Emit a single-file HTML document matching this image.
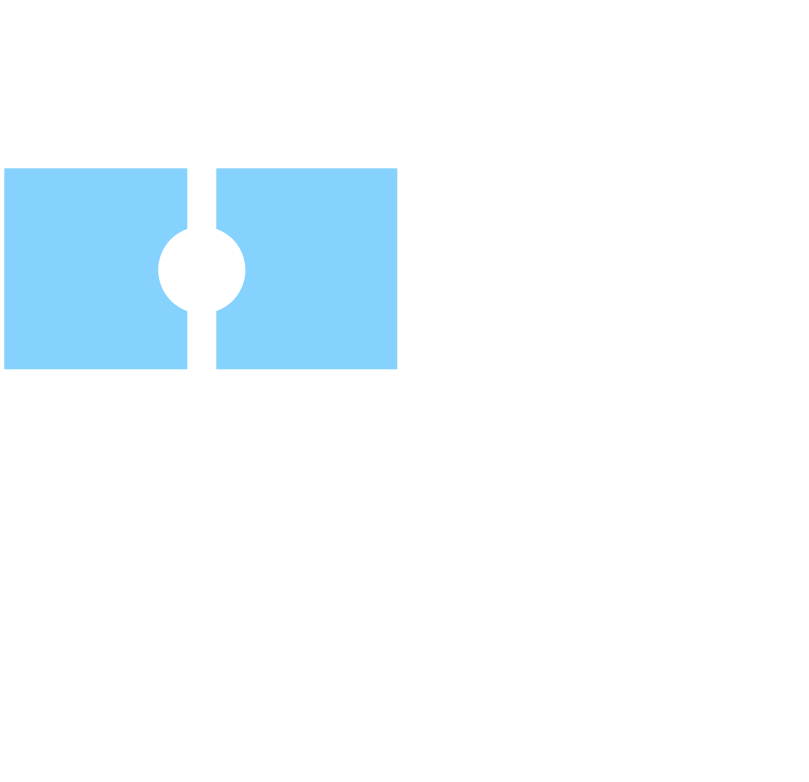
<!DOCTYPE html>
<html>
<head>
<meta charset="utf-8">
<style>
  html, body { margin: 0; padding: 0; background: #ffffff; }
  body { width: 809px; height: 782px; overflow: hidden; position: relative; }
  svg { position: absolute; left: 0; top: 0; }
</style>
</head>
<body>
<svg width="809" height="782" viewBox="0 0 809 782" xmlns="http://www.w3.org/2000/svg">
  <rect x="0" y="0" width="809" height="782" fill="#ffffff"/>
  <rect x="4.3" y="168.3" width="183" height="201" fill="#86d2fe"/>
  <rect x="216.3" y="168.3" width="181" height="201" fill="#86d2fe"/>
  <circle cx="201.8" cy="270" r="43.6" fill="#ffffff"/>
</svg>
</body>
</html>
